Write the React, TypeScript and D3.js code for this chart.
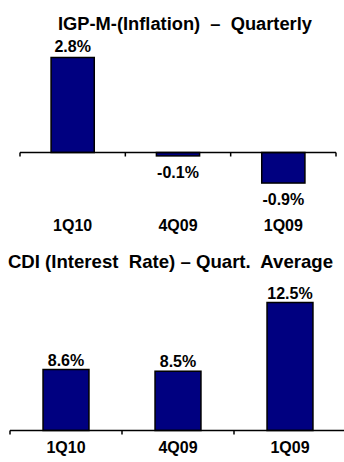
import React from "react";
import * as d3 from "d3";

const categories = ["1Q10", "4Q09", "1Q09"];
const igpmValues = [2.8, -0.1, -0.9];
const cdiValues = [8.6, 8.5, 12.5];
const igpmTitle = "IGP-M-(Inflation)  \u2013  Quarterly";
const cdiTitle = "CDI (Interest  Rate) \u2013 Quart.  Average";

const FONT = "'Liberation Sans', Arial, sans-serif";
const NAVY = "#000080";

function fmt(v: number) {
  return v.toFixed(1) + "%";
}

export default function App() {
  const x1 = d3.scaleBand<string>().domain(categories).range([20, 336]).paddingInner(0).paddingOuter(0);
  const y1 = d3.scaleLinear().domain([0, 2.8]).range([152.5, 57.5]);
  const bw1 = x1.bandwidth() * 0.41;

  const x2 = d3.scaleBand<string>().domain(categories).range([10, 346]).paddingInner(0).paddingOuter(0);
  const y2 = d3.scaleLinear().domain([5.05, 12.5]).range([430.5, 302.5]);
  const bw2 = x2.bandwidth() * 0.41;

  const ticks1 = [0, 1, 2, 3].map((i) => 20 + i * x1.bandwidth());
  const ticks2 = [0, 1, 2, 3].map((i) => 10 + i * x2.bandwidth());

  return (
    <svg
      width={344}
      height={462}
      style={{ position: "absolute", left: 0, top: 0, background: "#fff" }}
      fontFamily={FONT}
      fontWeight="bold"
    >
      <text x={185} y={30} textAnchor="middle" fontSize={18.3} style={{ whiteSpace: "pre" }}>
        {igpmTitle}
      </text>
      {categories.map((c, i) => {
        const v = igpmValues[i];
        const cx = x1(c)! + x1.bandwidth() / 2;
        const top = Math.min(y1(v), y1(0));
        const h = Math.abs(y1(v) - y1(0));
        return (
          <g key={c}>
            <rect x={cx - bw1 / 2} y={top} width={bw1} height={h} fill={NAVY} stroke="#000" strokeWidth={1.5} />
            <text x={cx} y={v >= 0 ? y1(v) - 5.5 : y1(v) + 22} textAnchor="middle" fontSize={16}>
              {fmt(v)}
            </text>
            <text x={cx} y={231} textAnchor="middle" fontSize={16}>
              {c}
            </text>
          </g>
        );
      })}
      <line x1={20} x2={336} y1={y1(0)} y2={y1(0)} stroke="#000" strokeWidth={1.5} />
      {ticks1.map((t, i) => (
        <line key={i} x1={t} x2={t} y1={y1(0)} y2={y1(0) + 4} stroke="#000" strokeWidth={1.5} />
      ))}

      <text x={170.5} y={268} textAnchor="middle" fontSize={18.6} style={{ whiteSpace: "pre" }}>
        {cdiTitle}
      </text>
      {categories.map((c, i) => {
        const v = cdiValues[i];
        const cx = x2(c)! + x2.bandwidth() / 2;
        const top = y2(v);
        const h = y2(y2.domain()[0]) - top;
        return (
          <g key={c}>
            <rect x={cx - bw2 / 2} y={top} width={bw2} height={h} fill={NAVY} stroke="#000" strokeWidth={1.5} />
            <text x={cx} y={top - 4} textAnchor="middle" fontSize={16}>
              {fmt(v)}
            </text>
            <text x={cx} y={453} textAnchor="middle" fontSize={16}>
              {c}
            </text>
          </g>
        );
      })}
      <line x1={10} x2={346} y1={430.5} y2={430.5} stroke="#000" strokeWidth={1.5} />
      {ticks2.map((t, i) => (
        <line key={i} x1={t} x2={t} y1={430.5} y2={434.5} stroke="#000" strokeWidth={1.5} />
      ))}
    </svg>
  );
}
